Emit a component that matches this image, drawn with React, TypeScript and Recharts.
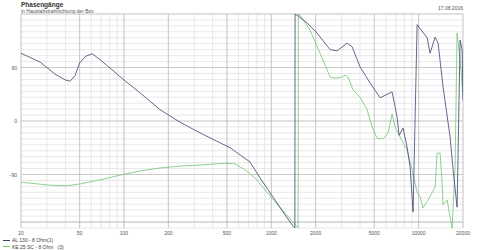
import React from 'react';
import { LineChart, Line, XAxis, YAxis, CartesianGrid, ReferenceLine } from 'recharts';

const freqGrid = [20, 30, 40, 50, 60, 70, 80, 90, 100, 200, 300, 400, 500, 600, 700, 800, 900, 1000, 2000, 3000, 4000, 5000, 6000, 7000, 8000, 9000, 10000, 20000];
const freqLabels = [20, 50, 100, 200, 500, 1000, 2000, 5000, 10000, 20000];
const phaseGrid = [180, 170, 160, 150, 140, 130, 120, 110, 100, 90, 80, 70, 60, 50, 40, 30, 20, 10, 0, -10, -20, -30, -40, -50, -60, -70, -80, -90, -100, -110, -120, -130, -140, -150, -160, -170];
const phaseLabels = [90, 0, -90];

const al130Freq = [20, 27, 34, 40, 43, 46.5, 50, 55, 61, 69, 100, 129, 176, 240, 328, 525, 717, 839, 1028, 1201, 1405, 1445, 1450, 1496, 1748, 2044, 2506, 2794, 3268, 3534, 4004, 4680, 5472, 6602, 7140, 7368, 7840, 8348, 8748, 9168, 9762, 11414, 11960, 12932, 13552, 14656, 16348, 17132, 18236, 19114, 19720, 20000];
const al130Phase = [114, 99, 79, 69, 67, 76, 98, 109, 113, 103, 69, 47, 19, -2, -20, -45, -69, -96, -128, -153, -177, -180, 180, 178, 165, 148, 120, 118, 131, 125, 91, 64, 39, 49, 7, -24, -12, -44, -77, -153, 162, 140, 114, 141, 131, 57, -27, -82, -145, 136, 120, 35];

const ke25Freq = [20, 31.5, 41, 50, 69, 94, 129, 176, 240, 328, 485, 567, 663, 776, 907, 1061, 1240, 1496, 1520, 1525, 1567, 1832, 2142, 2506, 2708, 3022, 3166, 3319, 3590, 4004, 4468, 4830, 5224, 5736, 6202, 6602, 6920, 7482, 8348, 9022, 9762, 10230, 10718, 11594, 12932, 13342, 13982, 14426, 14656, 15602, 16868, 17678, 18236, 19114, 20000];
const ke25Phase = [-103, -108, -109, -106, -99, -91, -84, -79, -76, -74, -71, -72, -82, -96, -116, -136, -155, -178, -180, 180, 178, 153, 114, 74, 72, 74, 77, 74, 52, 40, 19, -10, -29, -30, -20, 12, -10, -27, -49, -82, -120, -128, -146, -133, -111, -54, -54, -104, -141, -133, -180, -77, 148, 103, 44];

const al130Data = al130Freq.map((f, i) => ({ f, p: al130Phase[i] }));
const ke25Data = ke25Freq.map((f, i) => ({ f, p: ke25Phase[i] }));

const BLUE = '#3d4170';
const GREEN = '#74c474';
const FONT = '"Liberation Sans", Arial, sans-serif';

const XTick = (props: any) => {
  const { x, payload } = props;
  const v = payload.value as number;
  if (!freqLabels.includes(v)) return null;
  return (
    <text x={x} y={234.5} textAnchor="middle" fontSize={5} fill="#555" fontFamily={FONT}>
      {String(v)}
    </text>
  );
};

const YTick = (props: any) => {
  const { y, payload } = props;
  const v = payload.value as number;
  if (!phaseLabels.includes(v)) return null;
  return (
    <text x={17} y={y + 2} textAnchor="end" fontSize={5} fill="#555" fontFamily={FONT}>
      {String(v)}
    </text>
  );
};

export default function App() {
  return (
    <div style={{ position: 'absolute', left: 0, top: 0, width: 479, height: 250, background: '#fff', fontFamily: FONT }}>
      <div style={{ position: 'absolute', left: 21, top: 1, fontSize: 6.5, fontWeight: 'bold', color: '#333', lineHeight: '8px' }}>Phasengänge</div>
      <div style={{ position: 'absolute', left: 21, top: 8, fontSize: 5, color: '#555', lineHeight: '7px' }}>in Hauptabstrahlrichtung der Box</div>
      <div style={{ position: 'absolute', right: 16, top: 5, fontSize: 5, color: '#555', lineHeight: '7px' }}>17.08.2016</div>
      <LineChart width={479} height={250} margin={{ top: 14, right: 16, left: 0, bottom: 0 }}>
        <CartesianGrid stroke="#dedede" strokeWidth={0.7} />
        <XAxis
          dataKey="f"
          type="number"
          scale="log"
          domain={[20, 20000]}
          ticks={freqGrid}
          allowDataOverflow
          interval={0}
          height={22}
          axisLine={false}
          tickLine={false}
          tickSize={0}
          tick={<XTick />}
          tickMargin={0}
        />
        <YAxis
          type="number"
          domain={[-180, 180]}
          ticks={phaseGrid}
          allowDataOverflow
          interval={0}
          width={21}
          axisLine={false}
          tickLine={false}
          tickSize={0}
          tick={<YTick />}
          tickMargin={0}
        />
        {freqLabels.map((f) => (
          <ReferenceLine key={'x' + f} x={f} stroke="#bdbdbd" strokeWidth={0.7} />
        ))}
        {phaseLabels.map((p) => (
          <ReferenceLine key={'y' + p} y={p} stroke="#bdbdbd" strokeWidth={0.7} />
        ))}
        <ReferenceLine y={-170} stroke="#aaaaaa" strokeWidth={0.7} />
        <ReferenceLine y={180} stroke="#bbbbbb" strokeWidth={0.7} />
        <Line data={ke25Data} dataKey="p" stroke={GREEN} strokeWidth={0.8} dot={false} isAnimationActive={false} />
        <Line data={al130Data} dataKey="p" stroke={BLUE} strokeWidth={0.8} dot={false} isAnimationActive={false} />
      </LineChart>
      <div style={{ position: 'absolute', left: 3, top: 237, fontSize: 5, color: '#444', lineHeight: '6.5px' }}>
        <div style={{ display: 'flex', alignItems: 'center' }}>
          <span style={{ display: 'inline-block', width: 7, height: 0, borderTop: `1px solid ${BLUE}`, marginRight: 2 }} />
          <span>AL 130 - 8 Ohm(1)</span>
        </div>
        <div style={{ display: 'flex', alignItems: 'center' }}>
          <span style={{ display: 'inline-block', width: 7, height: 0, borderTop: `1px solid ${GREEN}`, marginRight: 2 }} />
          <span style={{ whiteSpace: 'pre' }}>KE 25 SC - 8 Ohm   (3)</span>
        </div>
      </div>
    </div>
  );
}
